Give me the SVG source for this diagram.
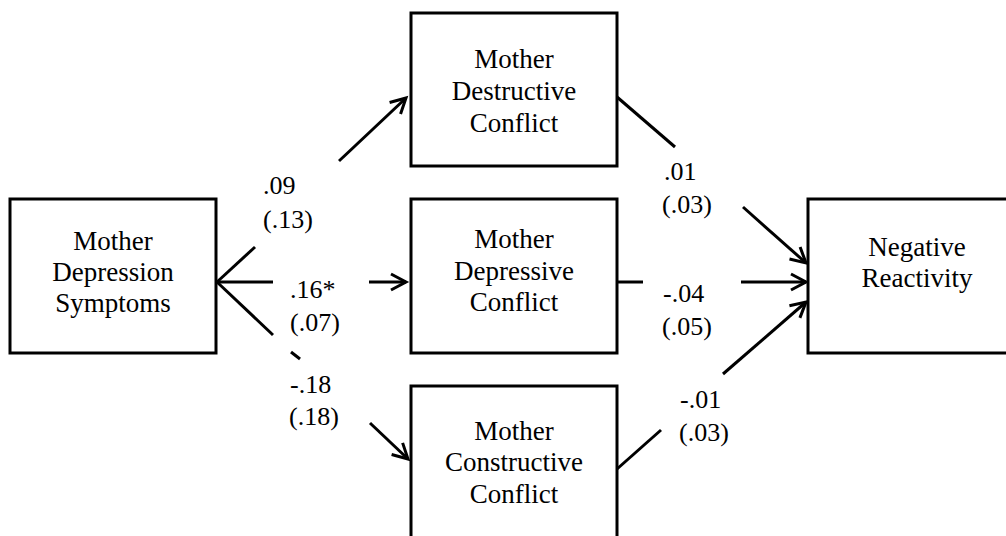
<svg xmlns="http://www.w3.org/2000/svg" width="1006" height="536" viewBox="0 0 1006 536">
  <style>
    .box { fill: #fff; stroke: #000; stroke-width: 3; }
    .node-text { font-family: "Liberation Serif", "Times New Roman", serif; font-size: 27px; fill: #000; text-anchor: middle; }
    .coef { font-family: "Liberation Serif", "Times New Roman", serif; font-size: 26px; fill: #000; text-anchor: start; }
    .edge { stroke: #000; stroke-width: 3; fill: none; }
  </style>
  <defs>
    <marker id="arr" markerUnits="userSpaceOnUse" markerWidth="24" markerHeight="24" refX="20" refY="12" orient="auto" overflow="visible">
      <path d="M5,4 L20,12 L5,20" fill="none" stroke="#000" stroke-width="3"/>
    </marker>
  </defs>
  <rect width="1006" height="536" fill="#fff"/>

  <!-- path connectors, broken around their coefficient labels -->
  <g id="connectors">
    <!-- symptoms -> destructive -->
    <line class="edge" x1="217" y1="282" x2="255" y2="247"/>
    <line class="edge" x1="339" y1="161" x2="406" y2="98" marker-end="url(#arr)"/>
    <!-- symptoms -> depressive -->
    <line class="edge" x1="217" y1="282" x2="273" y2="282"/>
    <line class="edge" x1="369" y1="282" x2="406" y2="282" marker-end="url(#arr)"/>
    <!-- symptoms -> constructive -->
    <line class="edge" x1="217" y1="282" x2="273" y2="335"/>
    <line class="edge" x1="291" y1="352" x2="300" y2="359"/>
    <line class="edge" x1="370" y1="423" x2="408" y2="459" marker-end="url(#arr)"/>
    <!-- destructive -> negative reactivity -->
    <line class="edge" x1="617" y1="97" x2="675" y2="147"/>
    <line class="edge" x1="743" y1="207" x2="806" y2="263" marker-end="url(#arr)"/>
    <!-- depressive -> negative reactivity -->
    <line class="edge" x1="617" y1="282" x2="643" y2="282"/>
    <line class="edge" x1="741" y1="282" x2="806" y2="282" marker-end="url(#arr)"/>
    <!-- constructive -> negative reactivity -->
    <line class="edge" x1="617" y1="469" x2="661" y2="430"/>
    <line class="edge" x1="723" y1="374" x2="806" y2="302" marker-end="url(#arr)"/>
  </g>

  <!-- path coefficients (standard errors) -->
  <g id="coefficients">
    <text class="coef" x="263" y="194">.09</text>
    <text class="coef" x="263" y="228">(.13)</text>
    <text class="coef" x="290" y="298">.16*</text>
    <text class="coef" x="290" y="331">(.07)</text>
    <text class="coef" x="290" y="393">-.18</text>
    <text class="coef" x="289" y="425">(.18)</text>
    <text class="coef" x="664" y="180">.01</text>
    <text class="coef" x="662" y="213">(.03)</text>
    <text class="coef" x="663" y="302">-.04</text>
    <text class="coef" x="662" y="335">(.05)</text>
    <text class="coef" x="680" y="408">-.01</text>
    <text class="coef" x="679" y="441">(.03)</text>
  </g>

  <g id="depression-symptoms">
    <rect class="box" x="10" y="199" width="206" height="154"/>
    <text class="node-text" x="113" y="250">Mother</text>
    <text class="node-text" x="113" y="281">Depression</text>
    <text class="node-text" x="113" y="312">Symptoms</text>
  </g>

  <g id="destructive-conflict">
    <rect class="box" x="411" y="13" width="206" height="153"/>
    <text class="node-text" x="514" y="68">Mother</text>
    <text class="node-text" x="514" y="100">Destructive</text>
    <text class="node-text" x="514" y="132">Conflict</text>
  </g>

  <g id="depressive-conflict">
    <rect class="box" x="411" y="199" width="206" height="154"/>
    <text class="node-text" x="514" y="248">Mother</text>
    <text class="node-text" x="514" y="280">Depressive</text>
    <text class="node-text" x="514" y="311">Conflict</text>
  </g>

  <g id="constructive-conflict">
    <rect class="box" x="411" y="386" width="206" height="170"/>
    <text class="node-text" x="514" y="440">Mother</text>
    <text class="node-text" x="514" y="471">Constructive</text>
    <text class="node-text" x="514" y="503">Conflict</text>
  </g>

  <g id="negative-reactivity">
    <rect class="box" x="808" y="199" width="230" height="154"/>
    <text class="node-text" x="917" y="256">Negative</text>
    <text class="node-text" x="917" y="287">Reactivity</text>
  </g>
</svg>
